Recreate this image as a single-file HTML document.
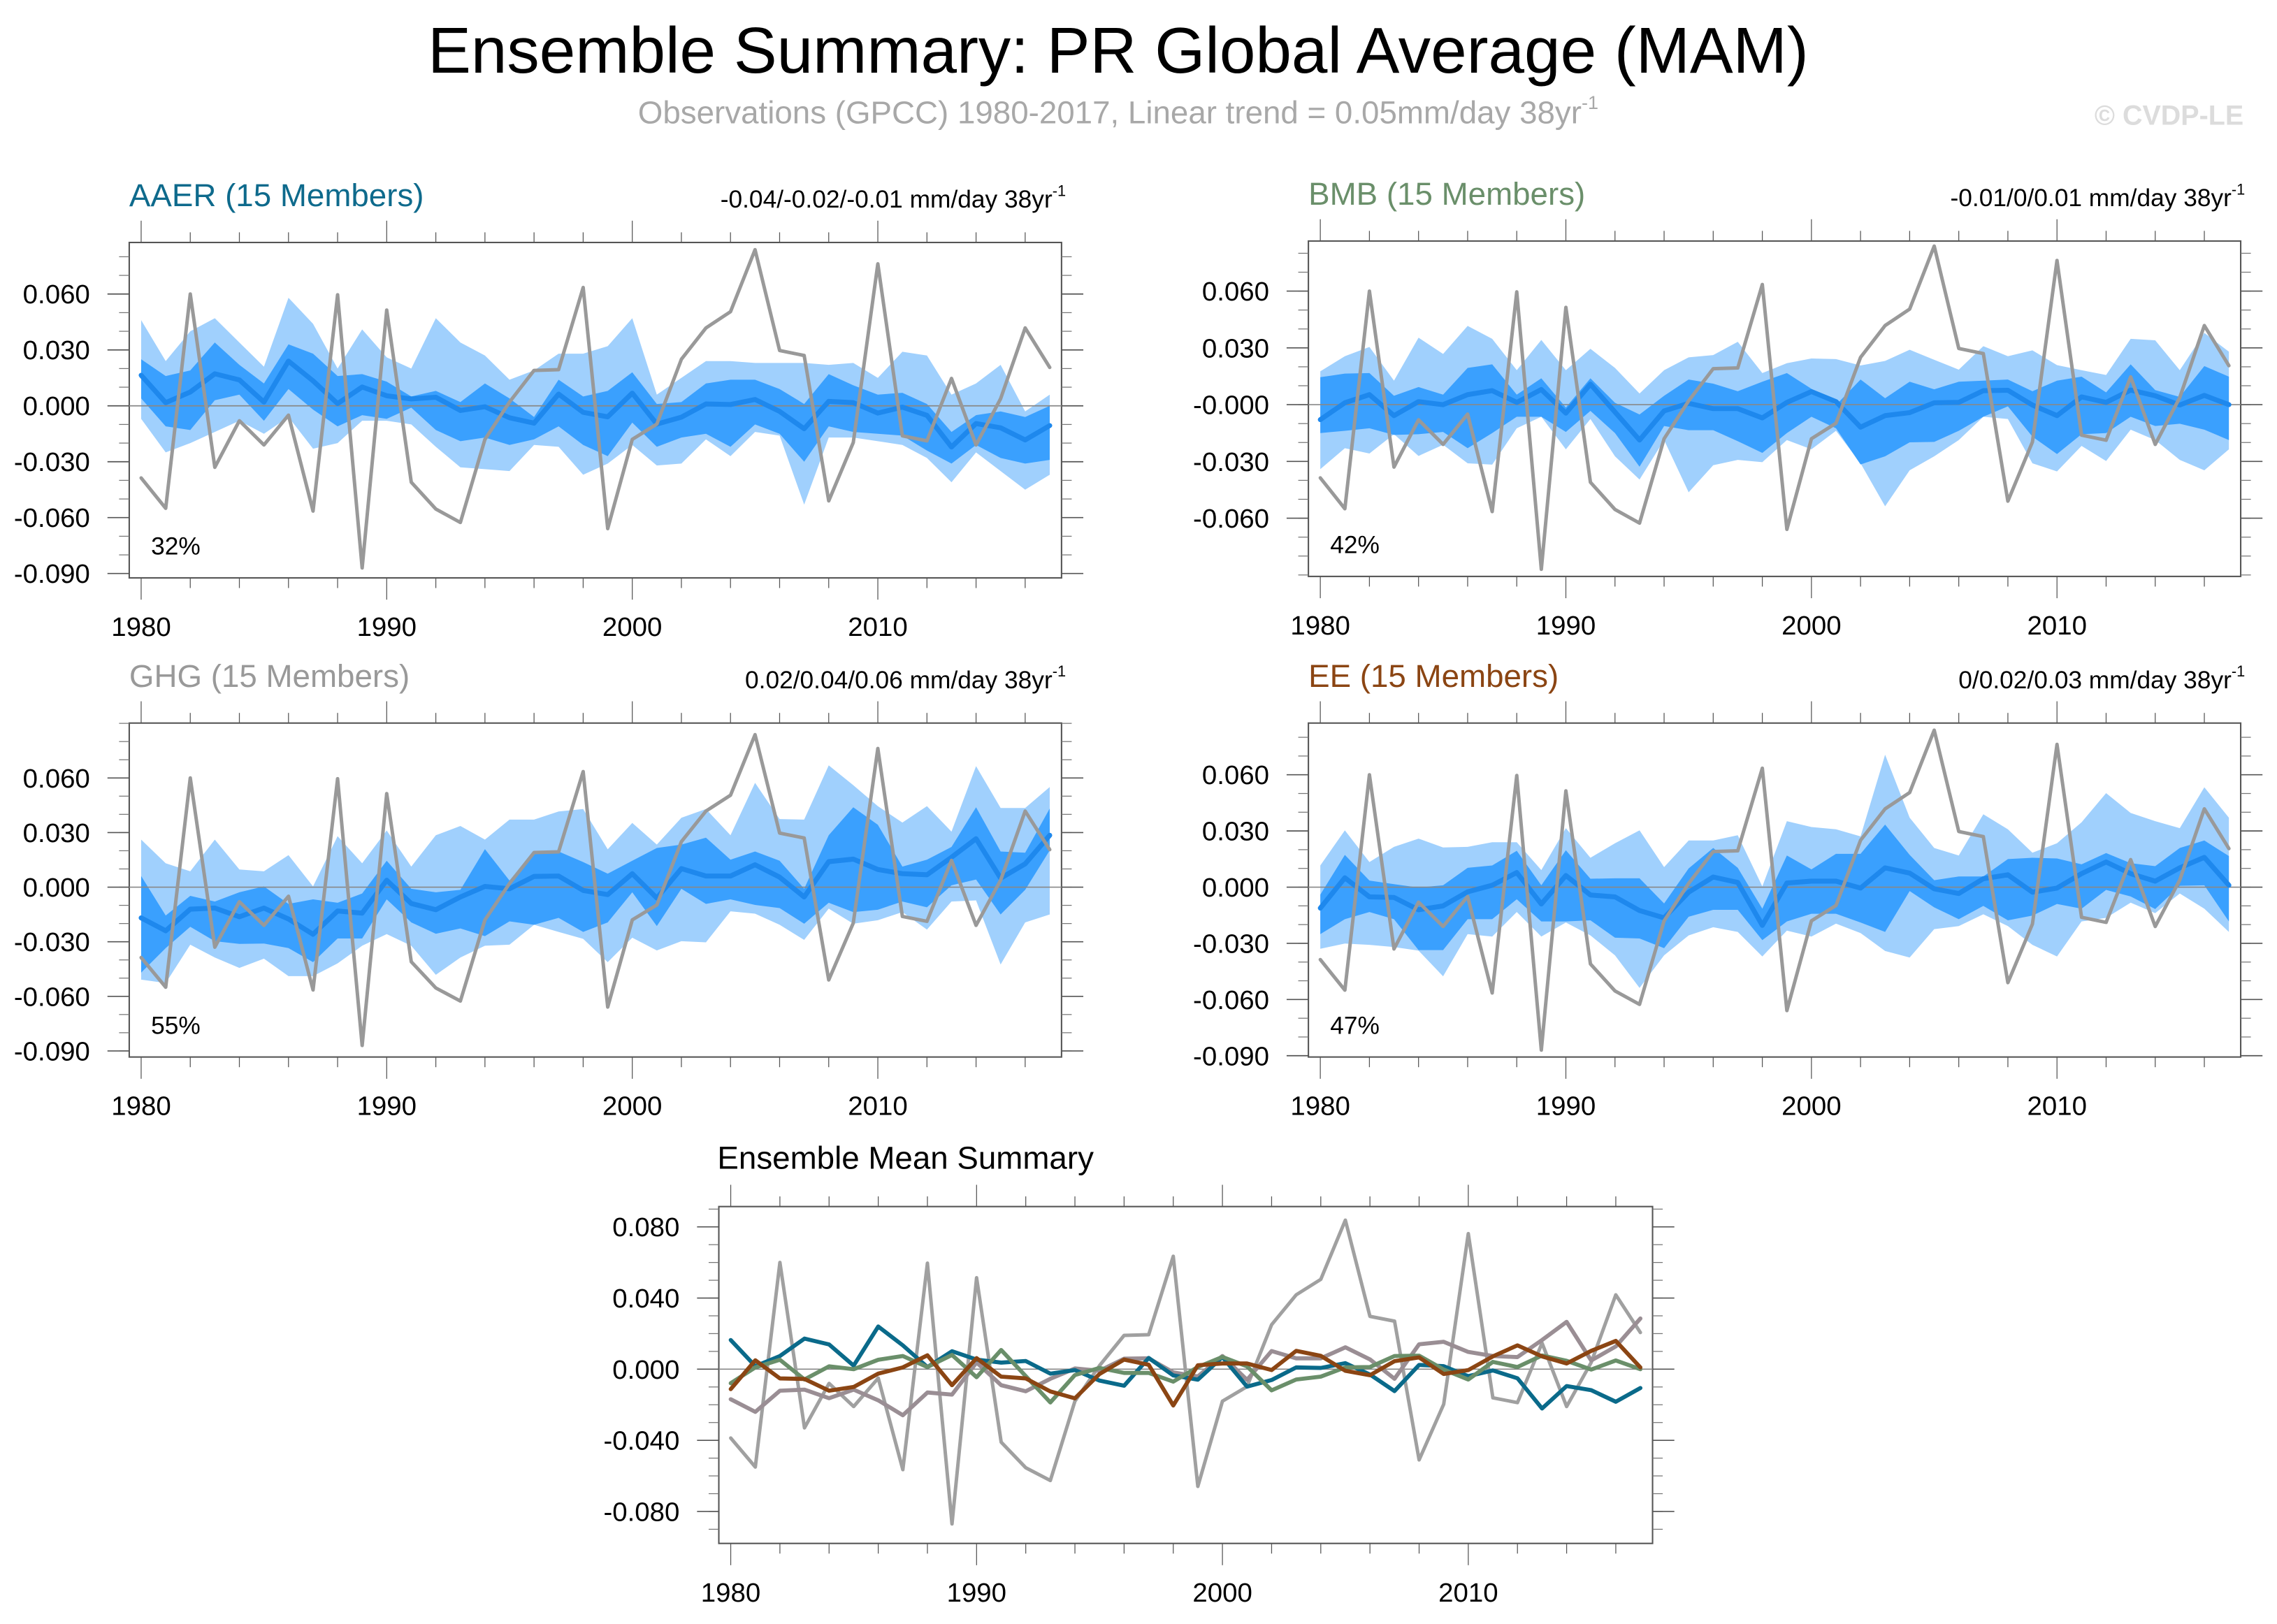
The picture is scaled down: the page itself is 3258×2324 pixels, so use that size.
<!DOCTYPE html>
<html><head><meta charset="utf-8"><title>Ensemble Summary: PR Global Average (MAM)</title>
<style>html,body{margin:0;padding:0;background:#fff;}svg{display:block;font-family:"Liberation Sans",Arial,sans-serif;}</style>
</head><body>
<svg id="fig" xmlns="http://www.w3.org/2000/svg" width="3258" height="2324" viewBox="0 0 1568 1118.5" preserveAspectRatio="none">
<text x="770" y="50" font-size="44.6" text-anchor="middle" fill="#000">Ensemble Summary: PR Global Average (MAM)</text>
<text x="770" y="85" font-size="22" text-anchor="middle" fill="#a8a8a8">Observations (GPCC) 1980-2017, Linear trend = 0.05mm/day 38yr<tspan font-size="13" dy="-10">-1</tspan></text>
<text x="1545" y="86" font-size="19" font-weight="bold" text-anchor="end" fill="#dcdcdc">© CVDP-LE</text>
<g id="panels"></g>
</svg>
<script>
const years = [];
for (let y = 1980; y <= 2017; y++) years.push(y);
const obs = [-0.0387,-0.055,0.060,-0.033,-0.008,-0.021,-0.005,-0.0565,0.0596,-0.087,0.0514,-0.041,-0.0554,-0.0626,-0.018,0.002,0.019,0.0194,0.0635,-0.0659,-0.018,-0.0098,0.025,0.0418,0.0505,0.0838,0.0297,0.027,-0.051,-0.0197,0.0762,-0.0161,-0.0188,0.0147,-0.021,0.0038,0.0418,0.0206];

const aaerMean = [0.0164,0.0017,0.0074,0.0172,0.0139,0.002,0.024,0.0134,0.0012,0.0101,0.0054,0.0037,0.0046,-0.0025,-0.0005,-0.0064,-0.0093,0.0063,-0.0035,-0.0059,0.0068,-0.0098,-0.0061,0.001,0.0007,0.0034,-0.003,-0.0123,0.0024,0.0017,-0.0039,-0.0007,-0.0051,-0.0221,-0.0095,-0.0118,-0.0183,-0.0106];
const aaerOuterHi = [0.046,0.024,0.040,0.047,0.034,0.021,0.058,0.044,0.020,0.041,0.026,0.020,0.047,0.034,0.027,0.014,0.019,0.028,0.028,0.032,0.047,0.006,0.015,0.024,0.024,0.023,0.023,0.023,0.022,0.023,0.015,0.029,0.027,0.006,0.012,0.022,-0.003,0.006];
const aaerOuterLo = [-0.007,-0.025,-0.020,-0.014,-0.008,-0.015,-0.006,-0.023,-0.020,-0.008,-0.008,-0.010,-0.022,-0.033,-0.034,-0.035,-0.021,-0.022,-0.037,-0.031,-0.021,-0.032,-0.031,-0.018,-0.027,-0.014,-0.016,-0.053,-0.017,-0.017,-0.019,-0.021,-0.028,-0.041,-0.025,-0.035,-0.045,-0.037];
const aaerInnerHi = [0.025,0.016,0.019,0.034,0.022,0.012,0.033,0.028,0.016,0.017,0.013,0.005,0.008,0.002,0.012,0.004,-0.006,0.014,0.005,0.008,0.018,0.001,0.002,0.012,0.014,0.014,0.009,0.001,0.017,0.011,0.006,0.007,0.001,-0.014,-0.005,-0.003,-0.006,0.000];
const aaerInnerLo = [0.004,-0.011,-0.013,0.003,0.006,-0.008,0.009,-0.002,-0.011,-0.005,-0.007,-0.001,-0.013,-0.019,-0.017,-0.021,-0.018,-0.011,-0.021,-0.027,-0.009,-0.022,-0.017,-0.015,-0.022,-0.010,-0.015,-0.030,-0.011,-0.014,-0.015,-0.016,-0.024,-0.031,-0.021,-0.028,-0.031,-0.029];

const bmbMean = [-0.0079,0.001,0.0053,-0.0058,0.0016,0,0.0053,0.0074,0.0012,0.008,-0.0045,0.0108,-0.0039,-0.0187,-0.0033,0.0007,-0.0021,-0.0021,-0.007,0.0012,0.0069,0.0016,-0.0119,-0.0058,-0.0042,0.001,0.0012,0.0074,0.0076,-0.0002,-0.0058,0.0041,0.0012,0.0077,0.0047,-0.0002,0.0049,0];
const bmbOuterHi = [0.0176,0.0256,0.0305,0.0127,0.0354,0.0268,0.0416,0.0348,0.0182,0.0342,0.0182,0.0295,0.0194,0.0059,0.0182,0.025,0.0262,0.0332,0.0167,0.0219,0.0244,0.0241,0.0207,0.0231,0.029,0.0237,0.0185,0.0309,0.0256,0.0287,0.0209,0.0182,0.0157,0.0348,0.034,0.0182,0.0379,0.028];
const bmbOuterLo = [-0.0341,-0.023,-0.0258,-0.0156,-0.0271,-0.0212,-0.031,-0.0317,-0.0125,-0.0064,-0.0236,-0.0076,-0.0273,-0.0396,-0.0187,-0.0463,-0.032,-0.0292,-0.0304,-0.0187,-0.0236,-0.0138,-0.031,-0.0537,-0.0347,-0.0273,-0.0187,-0.0064,-0.0076,-0.031,-0.0353,-0.0218,-0.0298,-0.0132,-0.0187,-0.0292,-0.0347,-0.0236];
const bmbInnerHi = [0.0145,0.0164,0.0167,0.0047,0.0093,0.0053,0.0194,0.0213,0.0053,0.0139,-0.0015,0.0139,0.001,-0.0052,0.0047,0.0133,0.0111,0.0071,0.0121,0.0167,0.0084,-0.0002,0.0133,0.0034,0.0121,0.0081,0.0121,0.0127,0.0133,0.0071,0.0127,0.0148,0.0065,0.0213,0.0077,0.0041,0.0204,0.0148];
const bmbInnerLo = [-0.015,-0.0138,-0.0125,-0.016,-0.0156,-0.0144,-0.023,-0.015,-0.0064,-0.0064,-0.0144,-0.0033,-0.015,-0.0328,-0.0113,-0.0135,-0.0135,-0.0193,-0.0255,-0.015,-0.0064,-0.0125,-0.0316,-0.0273,-0.0199,-0.0197,-0.0138,-0.0064,-0.0009,-0.0169,-0.0261,-0.0156,-0.015,-0.0064,-0.0113,-0.0101,-0.0132,-0.0187];

const ghgMean = [-0.0169,-0.024,-0.0121,-0.0115,-0.0163,-0.0115,-0.0175,-0.0259,-0.0131,-0.0143,0.0038,-0.009,-0.0124,-0.0054,0.0004,-0.0009,0.0059,0.0061,-0.0018,-0.0041,0.0074,-0.006,0.0102,0.0061,0.0061,0.0123,0.0055,-0.0054,0.014,0.0154,0.0097,0.0074,0.0068,0.0164,0.0266,0.0049,0.0128,0.0285];
const ghgOuterHi = [0.0261,0.0131,0.0087,0.0261,0.0097,0.0087,0.0176,0.0004,0.028,0.0131,0.0311,0.0113,0.0285,0.0336,0.0261,0.0371,0.0371,0.0416,0.0429,0.0208,0.0353,0.0234,0.0381,0.0429,0.0285,0.0573,0.0374,0.0371,0.0669,0.056,0.0445,0.0355,0.0445,0.0305,0.0665,0.0435,0.0435,0.055];
const ghgOuterLo = [-0.0508,-0.0527,-0.0316,-0.0387,-0.0444,-0.0393,-0.0489,-0.0489,-0.0419,-0.0322,-0.0258,-0.0322,-0.0482,-0.0387,-0.0322,-0.0316,-0.0207,-0.0246,-0.0284,-0.0412,-0.0278,-0.0348,-0.0297,-0.0303,-0.0133,-0.0146,-0.0207,-0.029,-0.0118,-0.0201,-0.0182,-0.0137,-0.0233,-0.0079,-0.0073,-0.0425,-0.0194,-0.015];
const ghgInnerHi = [0.0061,-0.0156,-0.0048,-0.0079,-0.0028,0.0004,-0.0092,-0.0067,-0.0086,-0.0035,0.0145,-0.0009,-0.0028,-0.0015,0.0209,0.0036,0.0196,0.0196,0.0138,0.0074,0.0145,0.0215,0.0234,0.0272,0.0151,0.0196,0.0145,-0.0009,0.0285,0.0439,0.0343,0.0113,0.0151,0.0221,0.0439,0.0196,0.0189,0.0432];
const ghgInnerLo = [-0.047,-0.0335,-0.0218,-0.0297,-0.0312,-0.031,-0.0335,-0.0412,-0.0282,-0.0282,-0.0067,-0.0194,-0.0256,-0.0227,-0.0269,-0.0188,-0.0207,-0.0169,-0.0246,-0.0194,-0.0028,-0.0214,-0.0009,-0.0092,-0.0067,-0.0098,-0.0115,-0.0201,-0.0086,-0.0137,-0.0124,-0.0079,-0.0111,0.001,0.0042,-0.015,-0.0015,0.0202];

const eeMean = [-0.0112,0.005,-0.0052,-0.0055,-0.0121,-0.01,-0.0025,0.001,0.0078,-0.009,0.0062,-0.0042,-0.0052,-0.0125,-0.0164,-0.0027,0.0054,0.0025,-0.0204,0.0022,0.0032,0.0032,-0.0005,0.0103,0.0075,-0.0009,-0.0034,0.0045,0.0066,-0.0027,-0.0005,0.0072,0.0134,0.0072,0.0032,0.0103,0.0159,0.001];
const eeOuterHi = [0.0116,0.0303,0.0134,0.0215,0.0259,0.0212,0.0215,0.024,0.024,0.0091,0.0315,0.0157,0.0234,0.0303,0.0107,0.0249,0.0249,0.0277,0.0004,0.0352,0.0321,0.0309,0.0271,0.0707,0.0371,0.0209,0.0169,0.0389,0.0309,0.0184,0.0234,0.0346,0.0502,0.0396,0.0352,0.0315,0.0533,0.0371];
const eeOuterLo = [-0.0329,-0.0301,-0.0308,-0.032,-0.0339,-0.0476,-0.0251,-0.0264,-0.0133,-0.0264,-0.0189,-0.0258,-0.0364,-0.0538,-0.0364,-0.0258,-0.0214,-0.0239,-0.037,-0.0232,-0.0264,-0.0195,-0.0245,-0.0341,-0.0376,-0.0224,-0.0208,-0.0145,-0.0208,-0.0308,-0.037,-0.0183,-0.0164,-0.0083,-0.0139,-0.0034,-0.0115,-0.0239];
const eeInnerHi = [-0.004,0.0172,0.0035,0.0016,-0.0002,0.001,0.0103,0.0116,0.0194,0.001,0.0197,0.0045,0.0047,0.0047,-0.0087,0.01,0.0209,0.0103,-0.0115,0.0169,0.0095,0.0178,0.0178,0.0334,0.0172,0.0037,0.0057,0.0057,0.015,0.0157,0.0153,0.0122,0.0182,0.0128,0.0112,0.0209,0.0249,0.0166];
const eeInnerLo = [-0.0251,-0.0171,-0.0133,-0.0171,-0.0336,-0.0336,-0.0171,-0.0171,-0.0065,-0.0183,-0.0183,-0.0177,-0.027,-0.0274,-0.0326,-0.0158,-0.0121,-0.0121,-0.0283,-0.0183,-0.0142,-0.0142,-0.0189,-0.0239,-0.0021,-0.0108,-0.0171,-0.01,-0.0177,-0.0152,-0.009,-0.0115,-0.0015,-0.005,-0.0117,0.0007,0.001,-0.0183];

const yearTicks = [1980, 1990, 2000, 2010];
const panelTicks = [0.06, 0.03, 0, -0.03, -0.06, -0.09];
const panelTickLabels = ["0.060","0.030","0.000","-0.030","-0.060","-0.090"];
const bmbTicks = [0.06, 0.03, 0, -0.03, -0.06];
const bmbTickLabels = ["0.060","0.030","-0.000","-0.030","-0.060"];
const meanTicks = [0.08, 0.04, 0, -0.04, -0.08];
const meanTickLabels = ["0.080","0.040","0.000","-0.040","-0.080"];

const NS = "http://www.w3.org/2000/svg";
const root = document.getElementById('panels');
function mk(tag, attrs, parent) {
  const e = document.createElementNS(NS, tag);
  for (const k in attrs) e.setAttribute(k, attrs[k]);
  (parent || root).appendChild(e);
  return e;
}

function drawAxes(g, P, ticks, labels, minorStep) {
  const xs = yr => P.x0 + 8.2 + (yr - 1980) * P.step;
  const ys = v => P.zero - v * P.k;
  const box = mk('rect', {x: P.x0, y: P.top, width: P.x1 - P.x0, height: P.bot - P.top, fill: 'none', stroke: '#555', 'stroke-width': 1}, g);
  
  
  for (let yr = 1980; yr <= 2017; yr += 2) {
    const major = yr % 10 === 0;
    const len = major ? 15 : 7;
    const x = xs(yr);
    const t1 = mk('line', {x1: x, x2: x, y1: P.top, y2: P.top - len, stroke: '#555', 'stroke-width': 0.6}, g);
    
    
    const t2 = mk('line', {x1: x, x2: x, y1: P.bot, y2: P.bot + len, stroke: '#555', 'stroke-width': 0.6}, g);
    
    
  }
  yearTicks.forEach(yr => {
    const t = mk('text', {x: xs(yr), y: P.bot + 40, 'font-size': 18.5, 'text-anchor': 'middle', fill: '#000'}, g);
    
    
    t.textContent = yr;
  });
  const vTop = (P.zero - P.top) / P.k, vBot = (P.zero - P.bot) / P.k;
  for (let i = Math.ceil(vBot / minorStep - 1e-6); i * minorStep <= vTop + 1e-9; i++) {
    const v = i * minorStep;
    const y = ys(v);
    [[P.x0, P.x0 - 7], [P.x1, P.x1 + 7]].forEach(([a, b]) => {
      const m = mk('line', {x1: a, x2: b, y1: y, y2: y, stroke: '#777', 'stroke-width': 0.6}, g);
      
      
    });
  }
  ticks.forEach((v, i) => {
    const y = ys(v);
    [[P.x0, P.x0 - 15], [P.x1, P.x1 + 15]].forEach(([a, b]) => {
      const m = mk('line', {x1: a, x2: b, y1: y, y2: y, stroke: '#555', 'stroke-width': 0.8}, g);
      
      
    });
    const t = mk('text', {x: P.x0 - 27, y: y + 6.5, 'font-size': 18.5, 'text-anchor': 'end', fill: '#000'}, g);
    
    
    t.textContent = labels[i];
  });
  const z = mk('line', {x1: P.x0, x2: P.x1, y1: ys(0), y2: ys(0), stroke: '#888', 'stroke-width': 0.8}, g);
  
  
  return {xs, ys};
}

function band(g, S, hi, lo, fill, name) {
  let d = '';
  years.forEach((yr, i) => { d += (i ? 'L' : 'M') + S.xs(yr).toFixed(2) + ',' + S.ys(hi[i]).toFixed(2); });
  for (let i = years.length - 1; i >= 0; i--) d += 'L' + S.xs(years[i]).toFixed(2) + ',' + S.ys(lo[i]).toFixed(2);
  const p = mk('path', {d: d + 'Z', fill: fill, stroke: 'none'}, g);
  
  
}
function line(g, S, vals, color, w, name) {
  const pts = years.map((yr, i) => S.xs(yr).toFixed(2) + ',' + S.ys(vals[i]).toFixed(2)).join(' ');
  const p = mk('polyline', {points: pts, fill: 'none', stroke: color, 'stroke-width': w, 'stroke-linejoin': 'round', 'stroke-linecap': 'round'}, g);
  
  
}

const panels = [
  {id: 'aaer', title: 'AAER (15 Members)', color: '#0e6a8c', trend: '-0.04/-0.02/-0.01 mm/day 38yr', pct: '32%', x0: 89, x1: 731, top: 167, bot: 398, zero: 279.5, k: 38.5 / 0.03, mean: aaerMean, oh: aaerOuterHi, ol: aaerOuterLo, ih: aaerInnerHi, il: aaerInnerLo, ticks: panelTicks, labels: panelTickLabels},
  {id: 'bmb', title: 'BMB (15 Members)', color: '#6a8f6a', trend: '-0.01/0/0.01 mm/day 38yr', pct: '42%', x0: 901, x1: 1543, top: 166, bot: 397, zero: 278.7, k: 39.1 / 0.03, mean: bmbMean, oh: bmbOuterHi, ol: bmbOuterLo, ih: bmbInnerHi, il: bmbInnerLo, ticks: bmbTicks, labels: bmbTickLabels},
  {id: 'ghg', title: 'GHG (15 Members)', color: '#999999', trend: '0.02/0.04/0.06 mm/day 38yr', pct: '55%', x0: 89, x1: 731, top: 498, bot: 728, zero: 611, k: 37.6 / 0.03, mean: ghgMean, oh: ghgOuterHi, ol: ghgOuterLo, ih: ghgInnerHi, il: ghgInnerLo, ticks: panelTicks, labels: panelTickLabels},
  {id: 'ee', title: 'EE (15 Members)', color: '#8b4513', trend: '0/0.02/0.03 mm/day 38yr', pct: '47%', x0: 901, x1: 1543, top: 498, bot: 728, zero: 611, k: 38.7 / 0.03, mean: eeMean, oh: eeOuterHi, ol: eeOuterLo, ih: eeInnerHi, il: eeInnerLo, ticks: panelTicks, labels: panelTickLabels}
];

panels.forEach(P => {
  P.step = 16.91;
  const g = mk('g', {});
  
  
  const tt = mk('text', {x: P.x0, y: P.top - 25, 'font-size': 22, fill: P.color}, g);
  
  
  tt.textContent = P.title;
  const tr = mk('text', {x: P.x1 + 3, y: P.top - 24, 'font-size': 17, 'text-anchor': 'end', fill: '#000'}, g);
  
  
  tr.textContent = P.trend;
  const sup = mk('tspan', {'font-size': 10.5, dy: -8}, tr);
  sup.textContent = '-1';
  const S = {xs: yr => P.x0 + 8.2 + (yr - 1980) * P.step, ys: v => P.zero - v * P.k};
  band(g, S, P.oh, P.ol, '#a0d0fd', P.id + '-outer-range-band');
  band(g, S, P.ih, P.il, '#3aa0fe', P.id + '-inner-range-band');
  drawAxes(g, P, P.ticks, P.labels, 0.01);
  line(g, S, P.mean, '#1e88ed', 3.4, P.id + '-ensemble-mean-line');
  line(g, S, obs, '#999999', 2.4, P.id + '-observations-line');
  const pc = mk('text', {x: P.x0 + 15, y: P.bot - 16, 'font-size': 17, fill: '#000'}, g);
  
  
  pc.textContent = P.pct;
});

const M = {x0: 495, x1: 1138, top: 831, bot: 1063, zero: 943, k: 49 / 0.04, step: 16.93};
const gm = mk('g', {});


const mt = mk('text', {x: 494, y: 805, 'font-size': 22, fill: '#000'}, gm);


mt.textContent = 'Ensemble Mean Summary';
const SM = drawAxes(gm, M, meanTicks, meanTickLabels, 0.01);
line(gm, SM, obs, '#a0a0a0', 2.4, 'summary-observations-line');
line(gm, SM, ghgMean, '#9a8e94', 2.8, 'summary-ghg-line');
line(gm, SM, aaerMean, '#0a6a8a', 2.8, 'summary-aaer-line');
line(gm, SM, bmbMean, '#6a8f6a', 2.8, 'summary-bmb-line');
line(gm, SM, eeMean, '#8b4513', 2.8, 'summary-ee-line');
</script>
</body></html>
